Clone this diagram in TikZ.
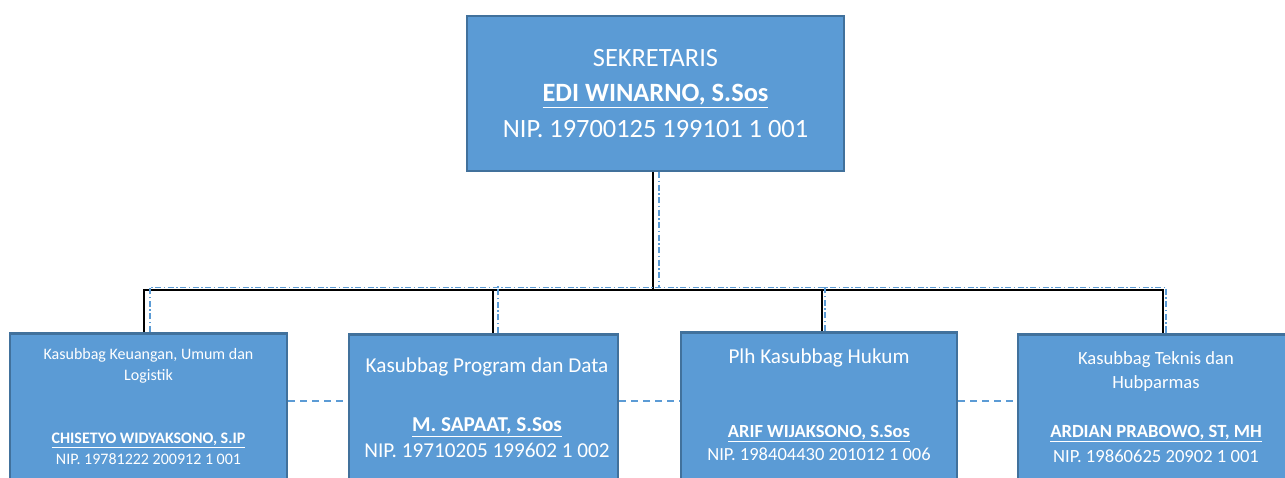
\documentclass[tikz,border=0pt]{standalone}
\usepackage{fontspec}
\setmainfont{Carlito}
\usetikzlibrary{positioning}
\definecolor{unitfill}{HTML}{5B9BD5}
\definecolor{unitedge}{HTML}{41719C}
\tikzset{
  unit/.style={draw=unitedge, line width=2.5pt, fill=unitfill, inner sep=0pt},
  caption/.style={text=white, align=center, inner sep=0pt},
  tree/.style={black, line width=1.6pt},
  guide/.style={unitfill, line width=1.3pt, dash pattern=on 6pt off 2.5pt on 1.5pt off 2.5pt},
  peer/.style={unitfill, line width=1.3pt, dash pattern=on 7pt off 5pt},
}
\begin{document}
\begin{tikzpicture}[x=1pt,y=-1pt]
  \useasboundingbox (0,0) rectangle (1285,478);
  % sekretaris
  \node[unit, caption, minimum width=377pt, minimum height=155pt,
        font=\fontsize{26.4}{35.5}\selectfont] (sek) at (655.5,93.5)
    {SEKRETARIS\\\underline{\textbf{EDI WINARNO, S.Sos}}\\NIP. 19700125 199101 1 001};
  % kasubbag boxes
  \node[unit, minimum width=277pt, minimum height=170pt, anchor=north] (k1) at (148.5,332) {};
  \node[unit, minimum width=269pt, minimum height=170pt, anchor=north] (k2) at (483.5,333) {};
  \node[unit, minimum width=276pt, minimum height=170pt, anchor=north] (k3) at (819,331) {};
  \node[unit, minimum width=276pt, minimum height=170pt, anchor=north] (k4) at (1156,333) {};
  \node[caption, below=16pt of k1.north, font=\fontsize{16}{21}\selectfont] (k1t)
    {Kasubbag Keuangan, Umum dan\\Logistik\\[42pt]\underline{\textbf{CHISETYO WIDYAKSONO, S.IP}}\\NIP. 19781222 200912 1 001};
  \node[caption, below=25pt of k2.north, xshift=3.5pt, font=\fontsize{21.2}{26}\selectfont] (k2t)
    {Kasubbag Program dan Data\\[33pt]\underline{\textbf{M. SAPAAT, S.Sos}}\\NIP. 19710205 199602 1 002};
  \node[caption, below=18pt of k3.north, font=\fontsize{18.5}{23.5}\selectfont] (k3t)
    {{\fontsize{21.2}{26}\selectfont Plh Kasubbag Hukum}\\[50pt]\underline{\textbf{ARIF WIJAKSONO, S.Sos}}\\NIP. 198404430 201012 1 006};
  \node[caption, below=18pt of k4.north, font=\fontsize{18.6}{24.5}\selectfont] (k4t)
    {Kasubbag Teknis dan\\Hubparmas\\[24.5pt]\underline{\textbf{ARDIAN PRABOWO, ST, MH}}\\NIP. 19860625 20902 1 001};
  % garis komando
  \draw[tree] ([xshift=-2.5pt]sek.south) -- ++(0,118) coordinate (jb);
  \draw[tree] ([xshift=-4.5pt]k1.north) |- (jb) -| ([xshift=7pt]k4.north);
  \draw[tree] ([xshift=9.5pt]k2.north) -- ++(0,-44);
  \draw[tree] ([xshift=3pt]k3.north) -- ++(0,-42);
  % garis koordinasi
  \draw[guide] ([xshift=3.5pt]sek.south) -- ++(0,115) coordinate (jg);
  \draw[guide] ([xshift=1.5pt]k1.north) |- (jg) -| ([xshift=10pt]k4.north);
  \draw[guide] ([xshift=14.5pt]k2.north) -- ++(0,-47);
  \draw[guide] ([xshift=6pt]k3.north) -- ++(0,-45);
  \coordinate (mid) at (0,401);
  \foreach \a/\b in {k1/k2,k2/k3,k3/k4}
    \draw[peer] (\a.east |- mid) -- (\b.west |- mid);
\end{tikzpicture}
\end{document}
